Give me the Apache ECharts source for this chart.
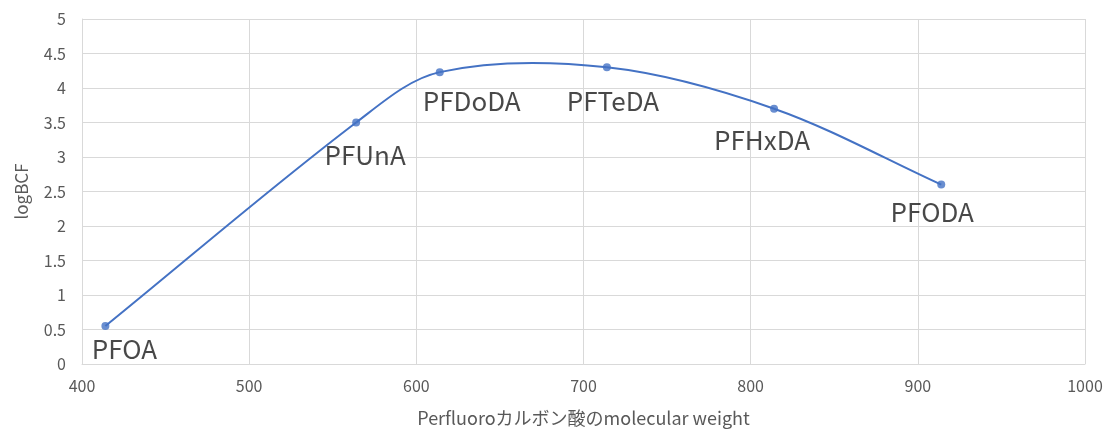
<!DOCTYPE html>
<html>
<head>
<meta charset="utf-8">
<script src="https://cdn.jsdelivr.net/npm/echarts@6/dist/echarts.min.js"></script>
<style>
  html, body { margin: 0; padding: 0; background: #fff; }
  #chart { width: 1107px; height: 432px; }
</style>
</head>
<body>
<div id="chart"></div>
<script>
// compound names and values (molecular weight vs logBCF)
const compounds = ['PFOA', 'PFUnA', 'PFDoDA', 'PFTeDA', 'PFHxDA', 'PFODA'];
const molecularWeights = [414, 564, 614, 714, 814, 914];
const logBCF = [0.55, 3.5, 4.23, 4.3, 3.7, 2.6];

// label nudges (px) so the names sit where the original places them
const labelNudges = [[19, 23], [9, 33], [32, 29], [6, 34], [-12, 31], [-9, 28]];

const FONT = '"Noto Sans CJK JP", "Noto Sans", sans-serif';
const GRID_COLOR = '#d9d9d9';
const TEXT_COLOR = '#595959';
const LINE_COLOR = '#4472C4';

const chart = echarts.init(document.getElementById('chart'));

const points = compounds.map((name, i) => ({
    name: name,
    value: [molecularWeights[i], logBCF[i]],
    label: { offset: labelNudges[i] }
}));

// Excel-style smoothed line: bezier between neighbouring points, tangent
// length weighted by segment length, computed in pixel space from the axes
const renderSegment = (params, api) => {
    const i = params.dataIndex;
    const n = molecularWeights.length;
    if (i >= n - 1) return null;
    const pt = (k) => {
        const j = Math.max(0, Math.min(n - 1, k));
        return api.coord([molecularWeights[j], logBCF[j]]);
    };
    const dist = (a, b) => Math.hypot(b[0] - a[0], b[1] - a[1]);
    const p0 = pt(i - 1), p1 = pt(i), p2 = pt(i + 1), p3 = pt(i + 2);
    const d01 = dist(p0, p1), d12 = dist(p1, p2), d23 = dist(p2, p3);
    const f1 = d12 / ((d01 + d12) || 1) / 3;
    const f2 = d12 / ((d12 + d23) || 1) / 3;
    return {
        type: 'bezierCurve',
        shape: {
            x1: p1[0], y1: p1[1],
            x2: p2[0], y2: p2[1],
            cpx1: p1[0] + (p2[0] - p0[0]) * f1,
            cpy1: p1[1] + (p2[1] - p0[1]) * f1,
            cpx2: p2[0] - (p3[0] - p1[0]) * f2,
            cpy2: p2[1] - (p3[1] - p1[1]) * f2
        },
        style: { stroke: LINE_COLOR, lineWidth: 2, fill: null }
    };
};

chart.setOption({
    animation: false,
    grid: { left: 82, right: 22, top: 19, bottom: 67 },
    textStyle: { fontFamily: FONT },
    xAxis: {
        type: 'value',
        min: 400,
        max: 1000,
        interval: 100,
        name: 'Perfluoroカルボン酸のmolecular weight',
        nameLocation: 'middle',
        nameGap: 45,
        nameTextStyle: { color: TEXT_COLOR, fontSize: 18, fontFamily: FONT },
        axisLine: { show: true, lineStyle: { color: GRID_COLOR, width: 1 } },
        axisTick: { show: false },
        axisLabel: {
            color: TEXT_COLOR, fontSize: 16, margin: 14, fontFamily: FONT,
            formatter: (v) => String(v)
        },
        splitLine: { show: true, lineStyle: { color: GRID_COLOR, width: 1 } }
    },
    yAxis: {
        type: 'value',
        min: 0,
        max: 5,
        interval: 0.5,
        name: 'logBCF',
        nameLocation: 'middle',
        nameGap: 52,
        nameRotate: 90,
        nameTextStyle: { color: TEXT_COLOR, fontSize: 17, fontFamily: FONT },
        axisLine: { show: true, lineStyle: { color: GRID_COLOR, width: 1 } },
        axisTick: { show: false },
        axisLabel: { color: TEXT_COLOR, fontSize: 16, margin: 16, fontFamily: FONT },
        splitLine: { show: true, lineStyle: { color: GRID_COLOR, width: 1 } }
    },
    series: [
        {
            type: 'custom',
            renderItem: renderSegment,
            data: molecularWeights.map((w, i) => [w, logBCF[i]]),
            silent: true,
            z: 2
        },
        {
            type: 'scatter',
            data: points,
            symbol: 'circle',
            symbolSize: 8,
            itemStyle: { color: LINE_COLOR },
            z: 3,
            label: {
                show: true,
                position: 'inside',
                formatter: '{b}',
                color: '#1a1a1a',
                fontSize: 26,
                fontFamily: FONT
            }
        }
    ]
});
</script>
</body>
</html>
